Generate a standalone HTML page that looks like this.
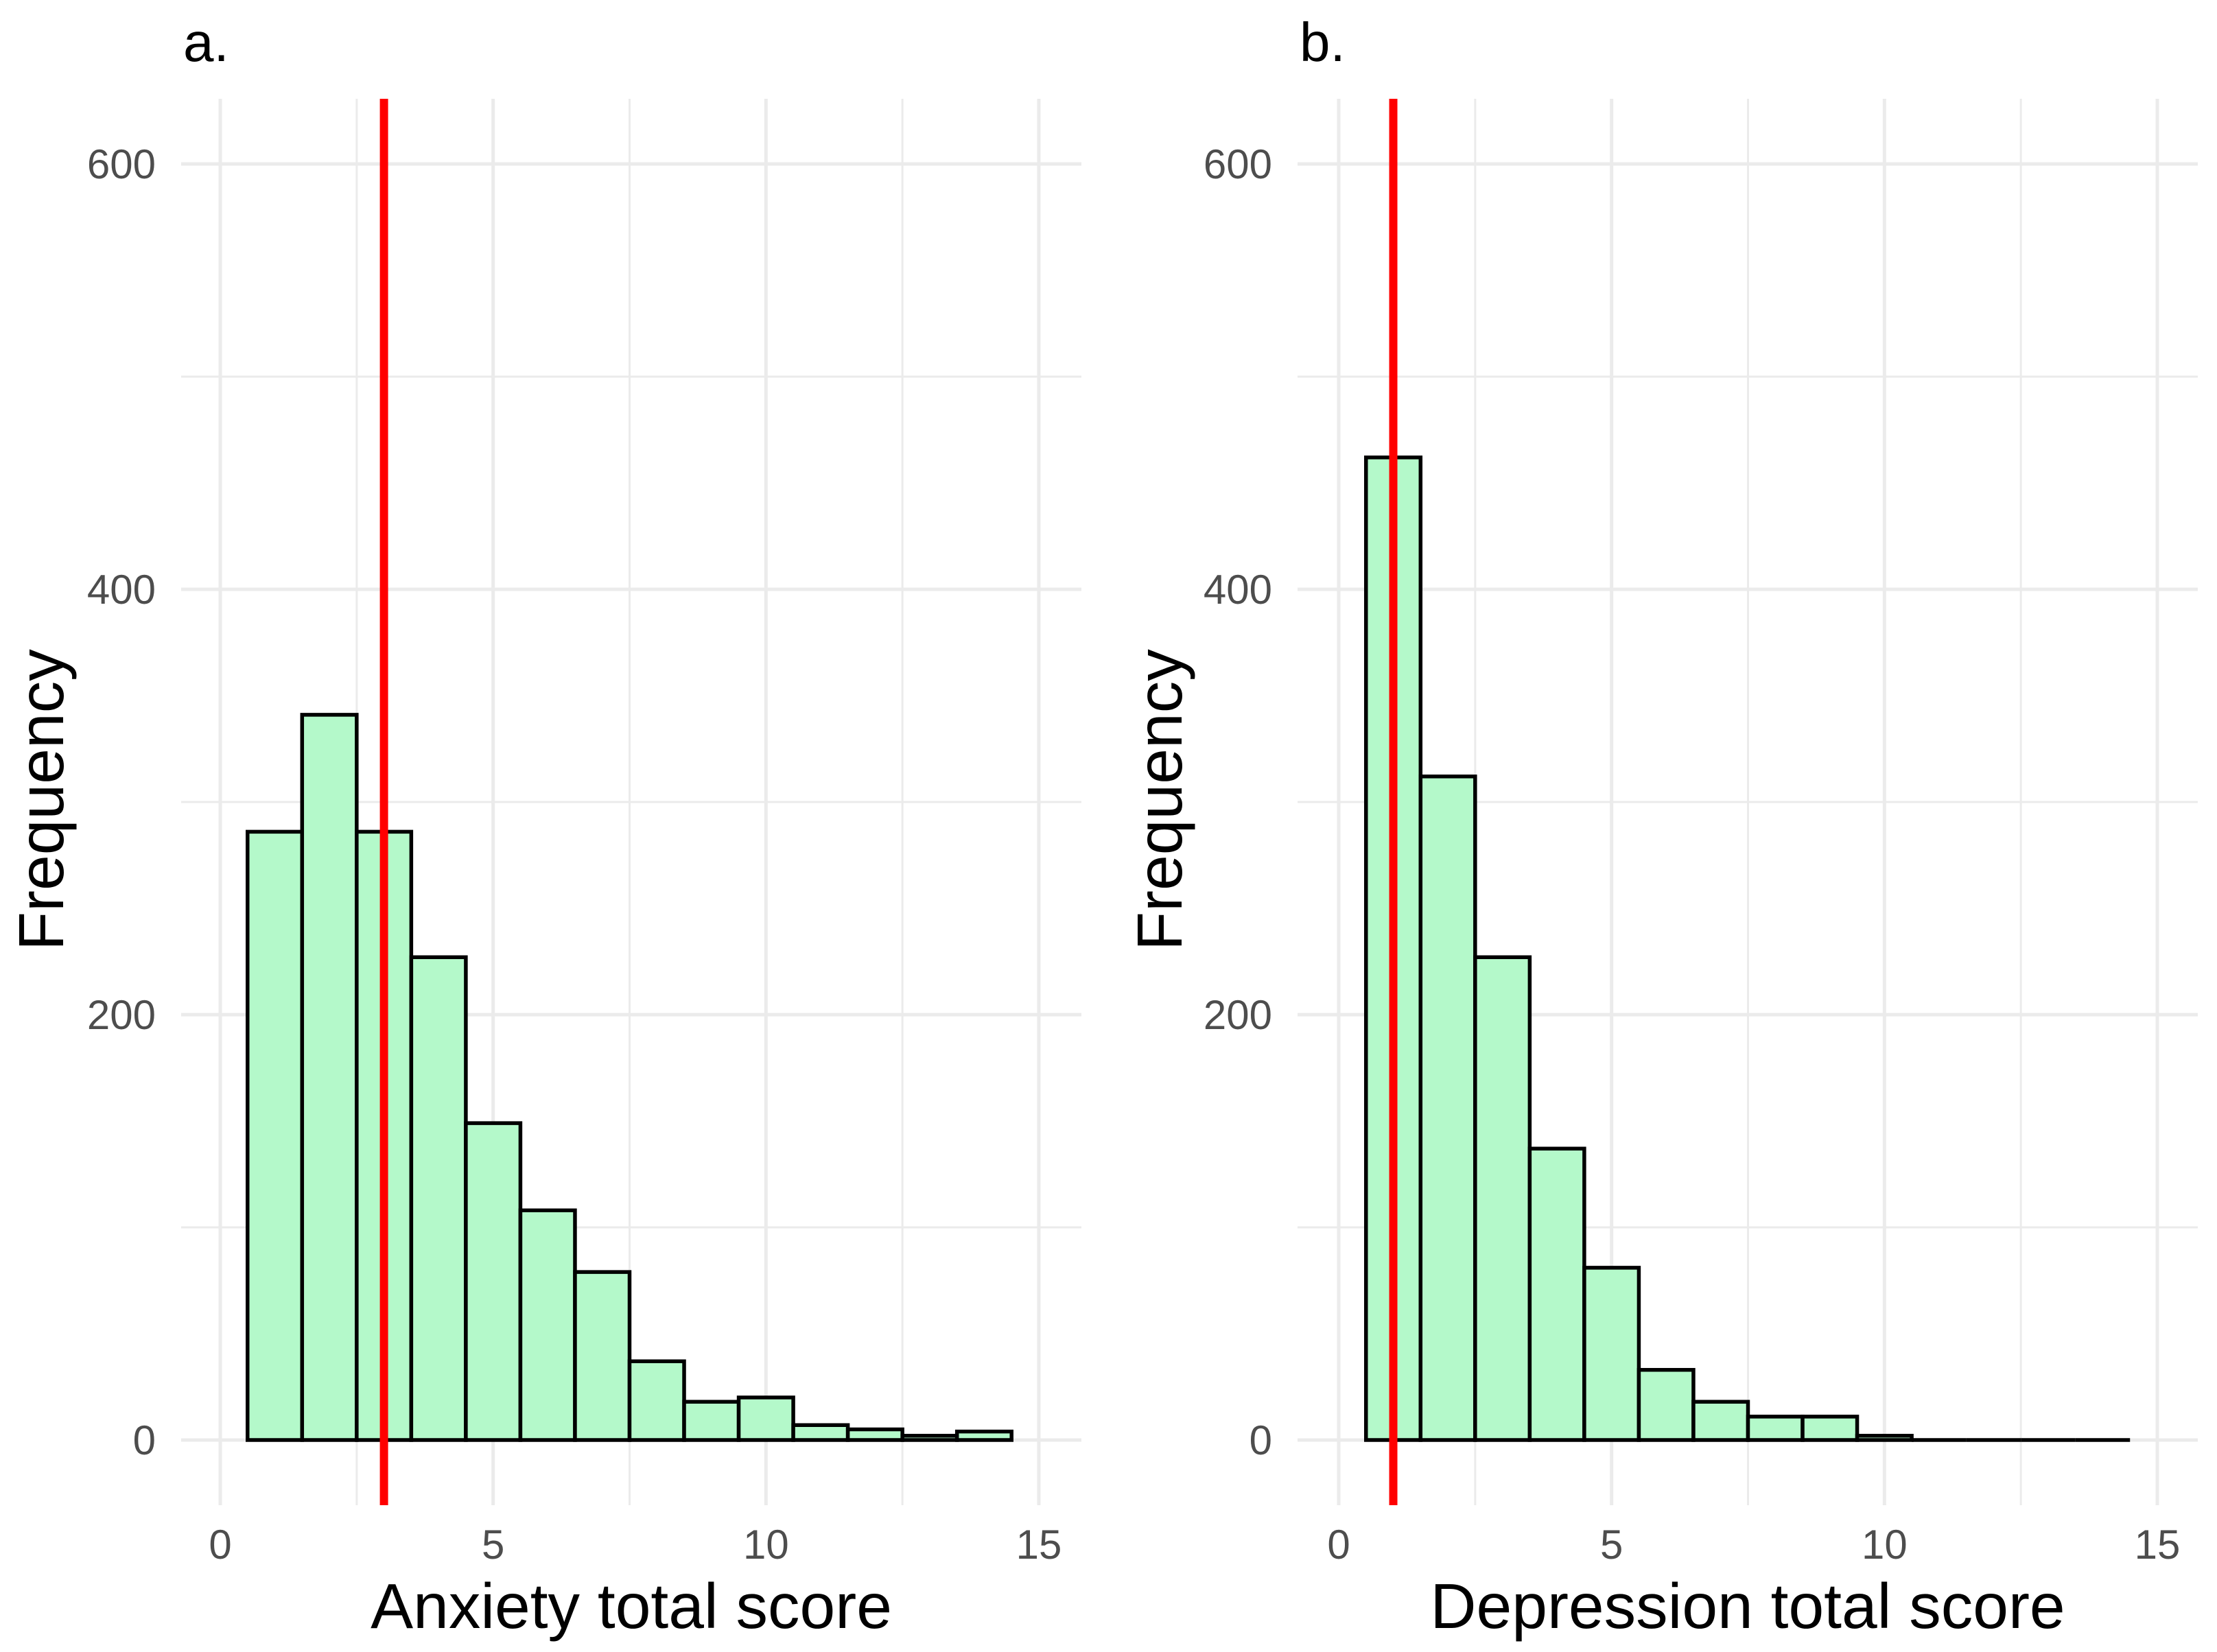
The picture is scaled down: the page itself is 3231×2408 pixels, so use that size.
<!DOCTYPE html>
<html><head><meta charset="utf-8"><style>
html,body{margin:0;padding:0;background:#fff;}
svg{display:block;font-family:"Liberation Sans",Arial,sans-serif;}
</style></head><body>
<svg id="chart" width="3231" height="2408" viewBox="0 0 3231 2408" xmlns="http://www.w3.org/2000/svg"></svg>
<script>
const binCenters = [1,2,3,4,5,6,7,8,9,10,11,12,13,14];
const anxietyCounts = [286,341,286,227,149,108,79,37,18,20,7,5,2,4];
const depressionCounts = [462,312,227,137,81,33,18,11,11,2,0,0,0,0];
const anxietyMedian = [3];
const depressionMedian = [1];
const xTicks = [0,5,10,15];
const xMinor = [2.5,7.5,12.5];
const yTicks = [0,200,400,600];
const yMinor = [100,300,500];
const panelTitles = ["a.","b."];
const xTitles = ["Anxiety total score","Depression total score"];

const svg = document.getElementById('chart');
const NS = 'http://www.w3.org/2000/svg';
function mk(tag, attrs){const e=document.createElementNS(NS,tag);for(const k in attrs)e.setAttribute(k,attrs[k]);return e;}

function drawPanel(p){
  const g = mk('g',{});
  
  
  svg.appendChild(g);
  const xs = v => p.x0 + (v/15)*(p.x15-p.x0);
  const ys = v => p.y0 - (v/600)*(p.y0-p.y600);
  xMinor.forEach(v=>{const l=mk('line',{x1:xs(v),x2:xs(v),y1:p.top,y2:p.bottom,stroke:'#ebebeb','stroke-width':3});
    
    
    g.appendChild(l);});
  yMinor.forEach(v=>{const l=mk('line',{x1:p.left,x2:p.right,y1:ys(v),y2:ys(v),stroke:'#ebebeb','stroke-width':3});
    
    
    g.appendChild(l);});
  xTicks.forEach(v=>{const l=mk('line',{x1:xs(v),x2:xs(v),y1:p.top,y2:p.bottom,stroke:'#ebebeb','stroke-width':5});
    
    
    g.appendChild(l);
    const t=mk('text',{x:xs(v),y:2272,'text-anchor':'middle','font-size':60,fill:'#4d4d4d'});
    t.textContent=String(v);
    
    
    g.appendChild(t);});
  yTicks.forEach(v=>{const l=mk('line',{x1:p.left,x2:p.right,y1:ys(v),y2:ys(v),stroke:'#ebebeb','stroke-width':5});
    
    
    g.appendChild(l);
    const t=mk('text',{x:p.ylabRight,y:ys(v)+21,'text-anchor':'end','font-size':60,fill:'#4d4d4d'});
    t.textContent=String(v);
    
    
    g.appendChild(t);});
  binCenters.forEach((c,i)=>{
    const v=p.counts[i];
    const xL=xs(c-0.5), xR=xs(c+0.5), yT=ys(v), yB=ys(0);
    const b=mk('path',{d:`M${xL},${yB} L${xL},${yT} L${xR},${yT} L${xR},${yB} Z`,fill:'#b4f9ca',stroke:'#000','stroke-width':5.5,'stroke-linejoin':'miter'});
    
    
    g.appendChild(b);
  });
  const r=mk('line',{x1:xs(p.median[0]),x2:xs(p.median[0]),y1:p.top,y2:p.bottom,stroke:'#ff0000','stroke-width':12});
  
  
  g.appendChild(r);
  const pt=mk('text',{x:p.left+3,y:89,'font-size':80,fill:'#000'});
  pt.textContent=panelTitles[p.idx];
  
  
  g.appendChild(pt);
  const xt=mk('text',{x:(p.left+p.right)/2,y:2373,'text-anchor':'middle','font-size':93,fill:'#000'});
  xt.textContent=xTitles[p.idx];
  
  
  g.appendChild(xt);
  const yt=mk('text',{x:0,y:0,'text-anchor':'middle','font-size':93,fill:'#000',transform:`translate(${p.ytitleX},1166) rotate(-90)`});
  yt.textContent='Frequency';
  
  
  g.appendChild(yt);
}

drawPanel({idx:0,counts:anxietyCounts,median:anxietyMedian,x0:321,x15:1514,y0:2099,y600:239,left:264,right:1576,top:144,bottom:2194,ylabRight:227,ytitleX:92});
drawPanel({idx:1,counts:depressionCounts,median:depressionMedian,x0:1951,x15:3144,y0:2099,y600:239,left:1891,right:3203,top:144,bottom:2194,ylabRight:1854,ytitleX:1722});
</script>
</body></html>
